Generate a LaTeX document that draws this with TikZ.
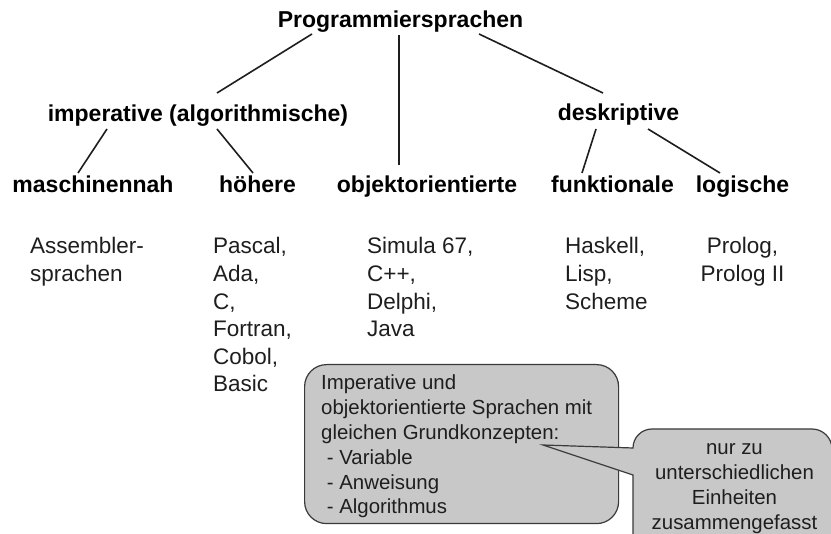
\documentclass[tikz,border=0pt]{standalone}
\usepackage{fontspec}
\setmainfont{Liberation Sans}
\usetikzlibrary{calc}
\definecolor{bubblegray}{HTML}{C8C8C8}
\definecolor{rimgray}{HTML}{3A3A3A}
\definecolor{inkgray}{HTML}{1E1E1E}
\begin{document}
\begin{tikzpicture}[x=1pt,y=-1pt,
  head/.style={font=\fontsize{23}{27}\selectfont\bfseries, inner sep=0pt, anchor=base, text=black},
  langs/.style={font=\fontsize{22.5}{27.6}\selectfont, inner sep=0pt, align=left, anchor=base west, text=inkgray},
  branch/.style={line width=1.6pt, draw=inkgray},
  bubble/.style={fill=bubblegray, draw=rimgray, line width=1.2pt},
  bubbletext/.style={font=\fontsize{20.4}{24.8}\selectfont, inner sep=0pt, text=inkgray}]
\useasboundingbox (0,0) rectangle (831,534);
\clip (0,0) rectangle (831,534);
\fill[white] (0,0) rectangle (831,534);

% classification tree
\node[head] (prog)   at (400.5,28)  {Programmiersprachen};
\node[head] (imp)    at (198,121.7) {imperative (algorithmische)};
\node[head] (desk)   at (618.5,120.7) {deskriptive};
\node[head] (masch)  at (93,193)    {maschinennah};
\node[head] (hoeh)   at (257.5,193) {höhere};
\node[head] (objekt) at (427,193)   {objektorientierte};
\node[head] (funk)   at (612.5,193) {funktionale};
\node[head] (logi)   at (742.5,193) {logische};

\draw[branch] ([shift={(-88.5,6)}]prog.base) -- ([shift={(19,-28.7)}]imp.base);
\draw[branch] ([shift={(-1.5,7)}]prog.base)  -- ([shift={(-28,-28)}]objekt.base);
\draw[branch] ([shift={(78.5,6)}]prog.base)  -- ([shift={(-15.5,-27.7)}]desk.base);
\draw[branch] ([shift={(-91,7.3)}]imp.base)  -- ([shift={(-15,-20)}]masch.base);
\draw[branch] ([shift={(19,7.3)}]imp.base)   -- ([shift={(-4.5,-20)}]hoeh.base);
\draw[branch] ([shift={(-22.5,8.3)}]desk.base) -- ([shift={(-30.5,-20)}]funk.base);
\draw[branch] ([shift={(29.5,8.3)}]desk.base)  -- ([shift={(-22.5,-20)}]logi.base);

% example languages (base anchor sits on the last line)
\node[langs] (asm)        at (30,281.6)  {Assembler-\\sprachen};
\node[langs] (imperlangs) at (213,392)   {Pascal,\\Ada,\\C,\\Fortran,\\Cobol,\\Basic};
\node[langs] (oolangs)    at (367,336.8) {Simula 67,\\C++,\\Delphi,\\Java};
\node[langs] (funclangs)  at (565,309.2) {Haskell,\\Lisp,\\Scheme};
\node[langs, align=center, anchor=base] (logiclangs) at (742.5,281.6) {Prolog,\\Prolog II};

% first callout
\node[bubble, rounded corners=22pt, minimum width=314pt, minimum height=159pt,
      anchor=north west, inner sep=0pt] (hint) at (304,364) {};
\node[bubbletext, align=left, anchor=base west] (hinttext) at (321,514)
  {Imperative und\\objektorientierte Sprachen mit\\gleichen Grundkonzepten:\\
   \hspace*{5.7pt}- Variable\\\hspace*{5.7pt}- Anweisung\\\hspace*{5.7pt}- Algorithmus};

% second callout, pointing into the first one
\coordinate (tip) at (543,445);
\draw[bubble] (tip) -- (633,448) .. controls (633,437.5) and (641.5,429) .. (652,429)
  -- (812,429) .. controls (823,429) and (832,438) .. (832,449)
  -- (832,560) -- (633,560) -- (633,475) -- cycle;
\node[bubbletext, align=center, anchor=base, font=\fontsize{20.4}{25}\selectfont] (note)
  at (734.5,530) {nur zu\\unterschiedlichen\\Einheiten\\zusammengefasst};
\end{tikzpicture}
\end{document}
